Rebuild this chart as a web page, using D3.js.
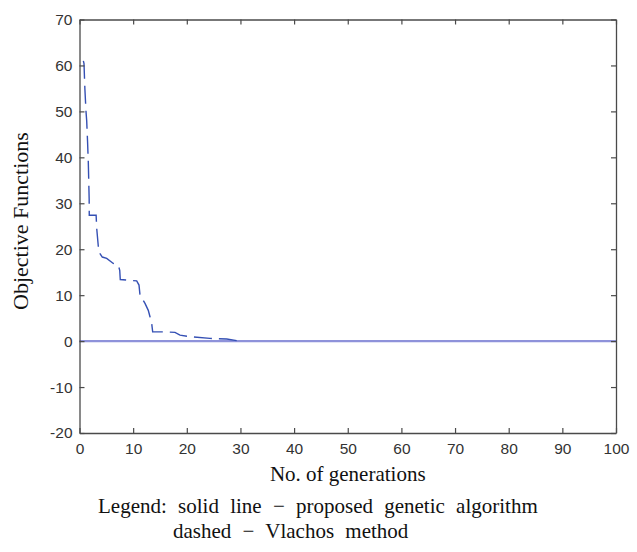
<!DOCTYPE html>
<html>
<head>
<meta charset="utf-8">
<script src="https://cdn.jsdelivr.net/npm/d3@7"></script>
<style>
  body { margin: 0; background: #fff; }
  svg { display: block; }
</style>
</head>
<body>
<script>
// data
var xTicks = [0, 10, 20, 30, 40, 50, 60, 70, 80, 90, 100];
var yTicks = [-20, -10, 0, 10, 20, 30, 40, 50, 60, 70];

// solid line - proposed genetic algorithm
var gaGen = [0, 100];
var gaVal = [0, 0];

// dashed - Vlachos method
var vlGen = [0.72, 0.84, 1.0, 1.21, 1.34, 1.5, 1.64, 1.8, 1.82, 3.1, 3.21, 3.6, 4.25, 5.07, 6.3, 7.23, 7.5, 7.6, 10.66, 11.09, 11.28, 12.21, 12.82, 13.14, 13.46, 13.64, 16.3, 17.8, 18.73, 20.28, 24.32, 27.44, 29.3];
var vlVal = [61, 60.4, 55, 50, 48, 43.5, 39, 31, 27.4, 27.4, 24.5, 19.4, 18.3, 18.0, 16.9, 16.5, 15.4, 13.4, 13.1, 12.2, 10, 8.2, 6.7, 5.3, 3.8, 2.0, 2.0, 1.9, 1.3, 1.0, 0.6, 0.45, 0.1];

var W = 637, H = 552;
var margin = {top: 19.5, right: 21, bottom: 119, left: 79.5};
var x0 = margin.left, x1 = W - margin.right,
    y0 = margin.top, y1 = H - margin.bottom;

var svg = d3.select("body").append("svg")
    .attr("width", W)
    .attr("height", H);

var x = d3.scaleLinear().domain([0, 100]).range([x0, x1]);
var y = d3.scaleLinear().domain([-20, 70]).range([y1, y0]);

var axisColor = "#4a4a4a";
var tickFont = "'Liberation Sans', Arial, sans-serif";
var serif = "'Liberation Serif', 'Times New Roman', serif";
var plain = function(d) { return String(d); };  // hyphen minus like the original

// lines
var line = d3.line()
    .x(function(d) { return x(d[0]); })
    .y(function(d) { return y(d[1]); });

svg.append("path")
    .datum(gaGen.map(function(g, i) { return [g, gaVal[i]]; }))
    .attr("d", line)
    .attr("fill", "none")
    .attr("stroke", "#8e92da")
    .attr("stroke-width", 2.2);

svg.append("path")
    .datum(vlGen.map(function(g, i) { return [g, vlVal[i]]; }))
    .attr("d", line)
    .attr("fill", "none")
    .attr("stroke", "#3550b4")
    .attr("stroke-width", 1.4)
    .attr("stroke-dasharray", "18,7");

// axes (ticks inward, box all round)
var axBottom = svg.append("g")
    .attr("transform", "translate(0," + y1 + ")")
    .call(d3.axisBottom(x).tickValues(xTicks).tickFormat(plain).tickSizeInner(-5).tickSizeOuter(0).tickPadding(10));
var axLeft = svg.append("g")
    .attr("transform", "translate(" + x0 + ",0)")
    .call(d3.axisLeft(y).tickValues(yTicks).tickFormat(plain).tickSizeInner(-5).tickSizeOuter(0).tickPadding(7));
var axTop = svg.append("g")
    .attr("transform", "translate(0," + y0 + ")")
    .call(d3.axisTop(x).tickValues(xTicks).tickSizeInner(-5).tickSizeOuter(0).tickFormat(""));
var axRight = svg.append("g")
    .attr("transform", "translate(" + x1 + ",0)")
    .call(d3.axisRight(y).tickValues(yTicks).tickSizeInner(-5).tickSizeOuter(0).tickFormat(""));

[axBottom, axLeft, axTop, axRight].forEach(function(a) {
  a.selectAll("path").attr("stroke", axisColor).attr("stroke-width", 1.3);
  a.selectAll("line").attr("stroke", axisColor).attr("stroke-width", 1.2);
  a.selectAll("text")
    .attr("fill", "#333")
    .style("font-family", tickFont)
    .style("font-size", "15.5px");
});

// axis labels
svg.append("text")
    .attr("x", (x0 + x1) / 2)
    .attr("y", 481)
    .attr("text-anchor", "middle")
    .style("font-family", serif)
    .style("font-size", "21px")
    .attr("fill", "#111")
    .text("No. of generations");

svg.append("text")
    .attr("transform", "translate(28,221) rotate(-90)")
    .attr("text-anchor", "middle")
    .style("font-family", serif)
    .style("font-size", "22px")
    .attr("fill", "#111")
    .text("Objective Functions");

// legend caption
svg.append("text")
    .attr("x", 98)
    .attr("y", 513)
    .style("font-family", serif)
    .style("font-size", "21px")
    .style("word-spacing", "6px")
    .attr("fill", "#111")
    .text("Legend: solid line \u2212 proposed genetic algorithm");

svg.append("text")
    .attr("x", 173)
    .attr("y", 538)
    .style("font-family", serif)
    .style("font-size", "21px")
    .style("word-spacing", "6px")
    .attr("fill", "#111")
    .text("dashed \u2212 Vlachos method");
</script>
</body>
</html>
